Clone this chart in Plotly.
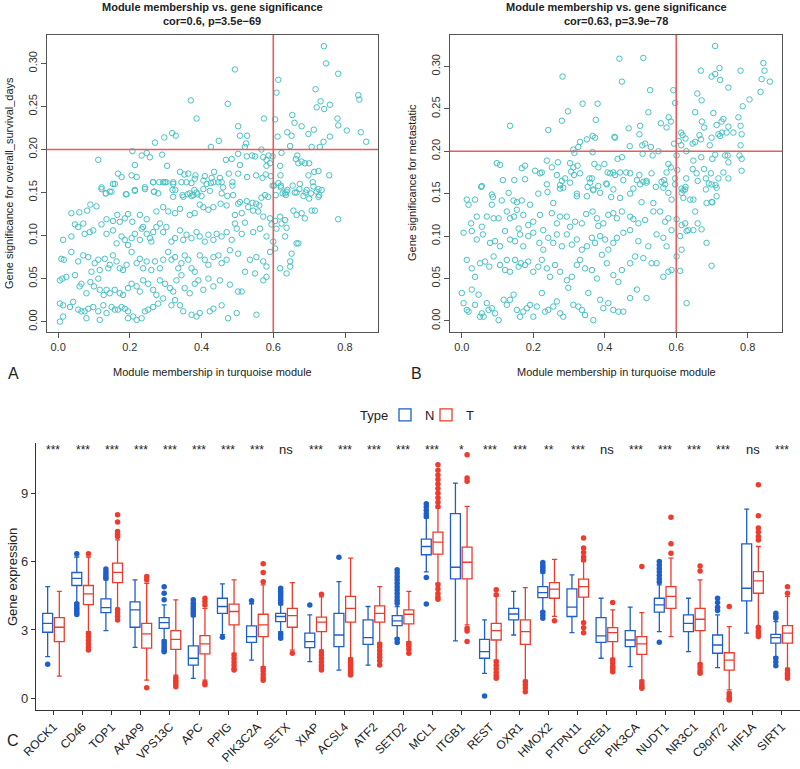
import plotly.graph_objects as go

#------------------------------------------------------------------------------
#   Data: panel A (overall_survival_days)
#------------------------------------------------------------------------------
a_mm = [0.112, 0.493, 0.370, 0.386, 0.473, 0.318, 0.328, 0.296, 0.270, 0.207, 0.214, 0.233, 0.247, 0.256, 0.290, 0.304,
        0.426, 0.448, 0.502, 0.507, 0.527, 0.524, 0.521, 0.502, 0.507, 0.484, 0.468, 0.526, 0.541, 0.549, 0.567, 0.572,
        0.581, 0.587, 0.581, 0.591, 0.574, 0.605, 0.614, 0.609, 0.612, 0.623, 0.598, 0.619, 0.639, 0.651, 0.653, 0.659,
        0.647, 0.667, 0.663, 0.670, 0.679, 0.679, 0.698, 0.713, 0.707, 0.730, 0.718, 0.721, 0.732, 0.742, 0.758, 0.741,
        0.747, 0.781, 0.779, 0.781, 0.758, 0.805, 0.837, 0.840, 0.844, 0.859, 0.740, 0.756, 0.726, 0.714, 0.688, 0.700,
        0.698, 0.726, 0.710, 0.690, 0.705, 0.167, 0.177, 0.153, 0.205, 0.219, 0.121, 0.133, 0.149, 0.189, 0.214, 0.242,
        0.265, 0.267, 0.279, 0.282, 0.298, 0.321, 0.340, 0.352, 0.363, 0.383, 0.381, 0.344, 0.358, 0.372, 0.319, 0.327,
        0.349, 0.367, 0.377, 0.389, 0.409, 0.405, 0.428, 0.435, 0.451, 0.447, 0.456, 0.426, 0.486, 0.486, 0.476, 0.502,
        0.527, 0.552, 0.570, 0.579, 0.593, 0.423, 0.405, 0.620, 0.598, 0.614, 0.621, 0.626, 0.635, 0.639, 0.654, 0.665,
        0.673,
        0.121, 0.133, 0.144, 0.158, 0.191, 0.214, 0.242, 0.265, 0.268, 0.293, 0.302, 0.321, 0.321, 0.347, 0.361, 0.372,
        0.380, 0.386, 0.400, 0.414, 0.433, 0.460, 0.456, 0.472, 0.488, 0.502, 0.507, 0.526, 0.542, 0.552, 0.561, 0.567,
        0.577, 0.586, 0.602, 0.607, 0.621, 0.633, 0.637, 0.660, 0.674, 0.684, 0.693, 0.700, 0.712, 0.721, 0.728, 0.735,
        0.726,
        0.037, 0.059, 0.081, 0.090, 0.107, 0.135, 0.153, 0.165, 0.172, 0.186, 0.195, 0.207, 0.228, 0.247, 0.274, 0.293,
        0.307, 0.326, 0.340, 0.367, 0.381, 0.395, 0.405, 0.419, 0.433, 0.453, 0.470, 0.493, 0.512, 0.530, 0.544, 0.558,
        0.572, 0.591, 0.605, 0.619, 0.633, 0.595, 0.609, 0.623, 0.637, 0.656, 0.665, 0.679, 0.688, 0.707, 0.716, 0.781,
        0.014, 0.037, 0.047, 0.056, 0.070, 0.074, 0.088, 0.098, 0.121, 0.135, 0.153, 0.163, 0.177, 0.186, 0.195, 0.205,
        0.214, 0.228, 0.233, 0.237, 0.247, 0.256, 0.260, 0.265, 0.274, 0.284, 0.293, 0.302, 0.316, 0.326, 0.340, 0.349,
        0.358, 0.372, 0.386, 0.395, 0.409, 0.419, 0.433, 0.442, 0.456, 0.470, 0.484, 0.498, 0.512, 0.544, 0.563, 0.581,
        0.600, 0.633, 0.665, 0.493, 0.521,
        0.009, 0.016, 0.037, 0.056, 0.070, 0.084, 0.093, 0.102, 0.112, 0.116, 0.130, 0.140, 0.144, 0.153, 0.163, 0.172,
        0.181, 0.191, 0.205, 0.219, 0.228, 0.237, 0.247, 0.260, 0.270, 0.284, 0.293, 0.307, 0.316, 0.326, 0.335, 0.344,
        0.353, 0.363, 0.372, 0.381, 0.395, 0.409, 0.419, 0.433, 0.447, 0.456, 0.470, 0.479, 0.502, 0.521, 0.535, 0.553,
        0.572, 0.581, 0.591, 0.605, 0.619, 0.647, 0.670, 0.651,
        0.005, 0.012, 0.023, 0.047, 0.060, 0.065, 0.079, 0.090, 0.100, 0.112, 0.116, 0.127, 0.135, 0.144, 0.158, 0.172,
        0.181, 0.195, 0.205, 0.219, 0.228, 0.237, 0.251, 0.265, 0.274, 0.284, 0.298, 0.312, 0.321, 0.330, 0.344, 0.353,
        0.367, 0.381, 0.391, 0.405, 0.419, 0.433, 0.451, 0.479, 0.502, 0.512, 0.549, 0.572, 0.581, 0.637, 0.647,
        0.005, 0.014, 0.033, 0.042, 0.056, 0.065, 0.074, 0.084, 0.098, 0.112, 0.126, 0.135, 0.149, 0.158, 0.167, 0.177,
        0.186, 0.195, 0.209, 0.219, 0.233, 0.242, 0.251, 0.265, 0.279, 0.293, 0.316, 0.326, 0.340, 0.349, 0.372, 0.386,
        0.395, 0.423, 0.433, 0.456, 0.474, 0.498, 0.553, 0.005, 0.014, 0.195, 0.079, 0.116]
a_gs = [0.188, 0.293, 0.257, 0.236, 0.253, 0.219, 0.216, 0.214, 0.208, 0.198, 0.182, 0.193, 0.196, 0.191, 0.194, 0.181,
        0.203, 0.210, 0.227, 0.216, 0.216, 0.207, 0.203, 0.195, 0.182, 0.189, 0.188, 0.192, 0.193, 0.192, 0.200, 0.191,
        0.188, 0.193, 0.181, 0.184, 0.236, 0.235, 0.281, 0.266, 0.215, 0.196, 0.192, 0.181, 0.220, 0.216, 0.240, 0.231,
        0.204, 0.193, 0.189, 0.184, 0.186, 0.227, 0.218, 0.223, 0.203, 0.203, 0.270, 0.249, 0.256, 0.247, 0.252, 0.320,
        0.300, 0.288, 0.236, 0.228, 0.215, 0.222, 0.263, 0.258, 0.220, 0.209, 0.209, 0.170, 0.175, 0.174, 0.184, 0.184,
        0.170, 0.154, 0.162, 0.150, 0.149, 0.172, 0.168, 0.160, 0.170, 0.168, 0.154, 0.149, 0.151, 0.148, 0.152, 0.154,
        0.162, 0.151, 0.149, 0.162, 0.162, 0.162, 0.174, 0.171, 0.172, 0.170, 0.166, 0.162, 0.162, 0.161, 0.153, 0.153,
        0.145, 0.149, 0.147, 0.148, 0.169, 0.164, 0.167, 0.174, 0.167, 0.162, 0.162, 0.161, 0.162, 0.158, 0.172, 0.172,
        0.168, 0.170, 0.167, 0.171, 0.169, 0.152, 0.154, 0.170, 0.158, 0.161, 0.156, 0.149, 0.147, 0.153, 0.158, 0.150,
        0.154,
        0.156, 0.149, 0.151, 0.160, 0.148, 0.153, 0.156, 0.162, 0.151, 0.162, 0.162, 0.160, 0.145, 0.147, 0.148, 0.146,
        0.153, 0.150, 0.146, 0.160, 0.162, 0.156, 0.149, 0.146, 0.147, 0.137, 0.139, 0.140, 0.138, 0.137, 0.135, 0.144,
        0.147, 0.145, 0.158, 0.147, 0.158, 0.149, 0.151, 0.150, 0.160, 0.146, 0.153, 0.143, 0.157, 0.151, 0.147, 0.153,
        0.145,
        0.126, 0.127, 0.129, 0.136, 0.134, 0.119, 0.117, 0.124, 0.116, 0.120, 0.125, 0.116, 0.124, 0.119, 0.128, 0.133,
        0.128, 0.126, 0.131, 0.124, 0.126, 0.136, 0.133, 0.130, 0.133, 0.137, 0.135, 0.124, 0.126, 0.133, 0.129, 0.128,
        0.122, 0.120, 0.117, 0.122, 0.118, 0.113, 0.108, 0.114, 0.109, 0.129, 0.124, 0.126, 0.120, 0.129, 0.129, 0.119,
        0.095, 0.099, 0.113, 0.110, 0.114, 0.102, 0.104, 0.106, 0.113, 0.102, 0.106, 0.091, 0.099, 0.095, 0.089, 0.097,
        0.102, 0.095, 0.108, 0.110, 0.102, 0.097, 0.093, 0.104, 0.110, 0.114, 0.104, 0.110, 0.093, 0.097, 0.106, 0.095,
        0.101, 0.097, 0.104, 0.099, 0.093, 0.101, 0.095, 0.102, 0.099, 0.104, 0.095, 0.108, 0.102, 0.104, 0.108, 0.099,
        0.093, 0.099, 0.091, 0.114, 0.115,
        0.073, 0.072, 0.081, 0.070, 0.077, 0.075, 0.058, 0.068, 0.072, 0.060, 0.073, 0.062, 0.066, 0.077, 0.070, 0.062,
        0.060, 0.066, 0.081, 0.068, 0.073, 0.062, 0.070, 0.060, 0.070, 0.062, 0.072, 0.081, 0.072, 0.075, 0.062, 0.068,
        0.077, 0.072, 0.062, 0.058, 0.077, 0.072, 0.066, 0.075, 0.077, 0.068, 0.072, 0.083, 0.079, 0.058, 0.072, 0.075,
        0.070, 0.064, 0.081, 0.085, 0.062, 0.070, 0.091, 0.079,
        0.048, 0.050, 0.052, 0.054, 0.041, 0.044, 0.033, 0.046, 0.041, 0.050, 0.037, 0.031, 0.037, 0.033, 0.037, 0.033,
        0.031, 0.039, 0.044, 0.041, 0.035, 0.048, 0.044, 0.037, 0.031, 0.048, 0.044, 0.039, 0.035, 0.048, 0.054, 0.039,
        0.033, 0.044, 0.048, 0.037, 0.050, 0.041, 0.048, 0.043, 0.035, 0.035, 0.056, 0.048, 0.052, 0.056, 0.064,
        0.021, 0.019, 0.017, 0.023, 0.014, 0.012, 0.012, 0.015, 0.017, 0.012, 0.019, 0.010, 0.017, 0.014, 0.014, 0.017,
        0.015, 0.012, 0.006, 0.002, 0.004, 0.012, 0.014, 0.017, 0.021, 0.027, 0.019, 0.025, 0.019, 0.012, 0.008, 0.006,
        0.010, 0.012, 0.015, 0.019, 0.004, 0.010, 0.008, 0.000, 0.006, 0.004, 0.004, 0.002]

#------------------------------------------------------------------------------
#   Data: panel B (metastatic)
#------------------------------------------------------------------------------
b_mm = [0.441, 0.508, 0.448, 0.282, 0.709, 0.721, 0.699, 0.709, 0.723, 0.669, 0.844, 0.847, 0.839, 0.862, 0.780, 0.805,
        0.746, 0.659, 0.527, 0.592, 0.597, 0.338, 0.380, 0.297, 0.280, 0.135, 0.242, 0.375, 0.522, 0.579, 0.585, 0.557,
        0.573, 0.499, 0.467, 0.497, 0.513, 0.505, 0.529, 0.534, 0.550, 0.506, 0.470, 0.448, 0.427, 0.429, 0.331, 0.350,
        0.366, 0.373, 0.366, 0.312, 0.315, 0.326, 0.614, 0.618, 0.626, 0.607, 0.614, 0.601, 0.594, 0.628, 0.646, 0.648,
        0.653, 0.665, 0.669, 0.672, 0.678, 0.653, 0.671, 0.694, 0.701, 0.709, 0.704, 0.713, 0.718, 0.723, 0.727, 0.732,
        0.728, 0.741, 0.746, 0.737, 0.746, 0.774, 0.780, 0.783, 0.786, 0.836, 0.760, 0.699, 0.780, 0.783, 0.777, 0.744,
        0.107, 0.098, 0.056, 0.087, 0.115, 0.147, 0.168, 0.177, 0.205, 0.224, 0.238, 0.240, 0.252, 0.266, 0.269, 0.275,
        0.280, 0.289, 0.303, 0.306, 0.312, 0.314, 0.324, 0.331, 0.322, 0.352, 0.357, 0.364, 0.368, 0.371, 0.382, 0.399,
        0.404, 0.408, 0.415, 0.424, 0.429, 0.436, 0.443, 0.452, 0.460, 0.471, 0.490, 0.497, 0.508, 0.517, 0.531, 0.543,
        0.559, 0.566, 0.573, 0.578, 0.585, 0.597, 0.603, 0.615, 0.620, 0.626, 0.628, 0.646, 0.657, 0.660, 0.670, 0.678,
        0.683, 0.691, 0.697, 0.710, 0.718, 0.732, 0.746, 0.783, 0.177, 0.219, 0.275,
        0.014, 0.019, 0.037, 0.054, 0.084, 0.084, 0.112, 0.131, 0.145, 0.154, 0.154, 0.168, 0.191, 0.214, 0.238, 0.256,
        0.284, 0.303, 0.322, 0.350, 0.368, 0.359, 0.382, 0.387, 0.406, 0.424, 0.418, 0.443, 0.471, 0.480, 0.499, 0.503,
        0.517, 0.536, 0.564, 0.569, 0.578, 0.587, 0.597, 0.615, 0.620, 0.625, 0.639, 0.648, 0.683, 0.699, 0.701, 0.713,
        0.713,
        0.026, 0.042, 0.056, 0.070, 0.089, 0.103, 0.126, 0.135, 0.146, 0.159, 0.172, 0.186, 0.200, 0.219, 0.228, 0.252,
        0.266, 0.275, 0.294, 0.303, 0.317, 0.336, 0.348, 0.366, 0.378, 0.382, 0.396, 0.410, 0.424, 0.434, 0.448, 0.471,
        0.480, 0.494, 0.513, 0.536, 0.555, 0.569, 0.578, 0.601, 0.615, 0.625, 0.634, 0.653, 0.660, 0.671, 0.685, 0.699,
        0.005, 0.028, 0.042, 0.059, 0.079, 0.093, 0.107, 0.121, 0.135, 0.149, 0.163, 0.172, 0.186, 0.200, 0.217, 0.228,
        0.242, 0.256, 0.266, 0.280, 0.294, 0.308, 0.322, 0.336, 0.350, 0.364, 0.373, 0.387, 0.401, 0.410, 0.424, 0.434,
        0.452, 0.471, 0.494, 0.522, 0.545, 0.564, 0.573, 0.587, 0.601, 0.611, 0.629, 0.648, 0.615, 0.685,
        0.014, 0.028, 0.037, 0.051, 0.065, 0.077, 0.089, 0.107, 0.121, 0.126, 0.135, 0.149, 0.159, 0.165, 0.177, 0.186,
        0.200, 0.214, 0.224, 0.238, 0.247, 0.261, 0.275, 0.294, 0.308, 0.322, 0.331, 0.345, 0.364, 0.378, 0.392, 0.406,
        0.424, 0.438, 0.448, 0.471, 0.485, 0.508, 0.531, 0.545, 0.564, 0.578, 0.587, 0.611, 0.699,
        0.000, 0.005, 0.014, 0.019, 0.028, 0.037, 0.047, 0.051, 0.056, 0.061, 0.070, 0.075, 0.084, 0.093, 0.103, 0.117,
        0.126, 0.135, 0.145, 0.154, 0.163, 0.172, 0.182, 0.191, 0.200, 0.210, 0.224, 0.233, 0.242, 0.256, 0.266, 0.275,
        0.284, 0.298, 0.312, 0.326, 0.336, 0.345, 0.354, 0.368, 0.387, 0.396, 0.410, 0.424, 0.438, 0.452, 0.471, 0.490,
        0.517, 0.629]
b_gs = [0.309, 0.310, 0.282, 0.288, 0.324, 0.298, 0.288, 0.291, 0.284, 0.295, 0.304, 0.295, 0.285, 0.282, 0.295, 0.261,
        0.275, 0.268, 0.272, 0.272, 0.257, 0.256, 0.256, 0.247, 0.236, 0.230, 0.225, 0.237, 0.246, 0.240, 0.235, 0.233,
        0.228, 0.230, 0.227, 0.220, 0.209, 0.207, 0.205, 0.195, 0.200, 0.197, 0.206, 0.193, 0.217, 0.216, 0.211, 0.214,
        0.218, 0.216, 0.199, 0.202, 0.198, 0.205, 0.222, 0.219, 0.215, 0.212, 0.207, 0.195, 0.209, 0.200, 0.209, 0.189,
        0.211, 0.219, 0.214, 0.235, 0.228, 0.246, 0.260, 0.207, 0.191, 0.196, 0.245, 0.231, 0.220, 0.218, 0.235, 0.238,
        0.222, 0.222, 0.229, 0.195, 0.187, 0.240, 0.230, 0.220, 0.253, 0.270, 0.222, 0.216, 0.207, 0.177, 0.195, 0.195,
        0.184, 0.186, 0.159, 0.146, 0.166, 0.166, 0.180, 0.167, 0.177, 0.175, 0.189, 0.152, 0.181, 0.172, 0.187, 0.160,
        0.165, 0.168, 0.186, 0.176, 0.181, 0.172, 0.183, 0.174, 0.150, 0.158, 0.168, 0.168, 0.154, 0.185, 0.181, 0.185,
        0.162, 0.175, 0.174, 0.175, 0.172, 0.191, 0.175, 0.166, 0.175, 0.174, 0.166, 0.172, 0.164, 0.165, 0.174, 0.158,
        0.164, 0.166, 0.175, 0.185, 0.181, 0.168, 0.178, 0.156, 0.154, 0.158, 0.168, 0.179, 0.174, 0.165, 0.193, 0.179,
        0.168, 0.162, 0.174, 0.160, 0.168, 0.175, 0.168, 0.191, 0.183, 0.174, 0.156,
        0.143, 0.137, 0.143, 0.158, 0.149, 0.137, 0.142, 0.151, 0.142, 0.140, 0.131, 0.142, 0.137, 0.150, 0.161, 0.139,
        0.157, 0.163, 0.147, 0.147, 0.155, 0.163, 0.159, 0.151, 0.161, 0.155, 0.146, 0.145, 0.150, 0.156, 0.161, 0.140,
        0.163, 0.139, 0.157, 0.161, 0.151, 0.143, 0.161, 0.151, 0.145, 0.155, 0.143, 0.143, 0.155, 0.161, 0.140, 0.157,
        0.147,
        0.115, 0.123, 0.111, 0.123, 0.121, 0.121, 0.129, 0.121, 0.123, 0.109, 0.125, 0.113, 0.117, 0.125, 0.107, 0.127,
        0.115, 0.123, 0.123, 0.111, 0.117, 0.115, 0.126, 0.129, 0.121, 0.112, 0.115, 0.125, 0.127, 0.121, 0.129, 0.123,
        0.120, 0.115, 0.119, 0.129, 0.129, 0.117, 0.121, 0.120, 0.113, 0.115, 0.107, 0.129, 0.115, 0.108, 0.139, 0.140,
        0.104, 0.106, 0.096, 0.102, 0.092, 0.094, 0.088, 0.106, 0.096, 0.094, 0.102, 0.088, 0.100, 0.104, 0.092, 0.084,
        0.098, 0.092, 0.102, 0.088, 0.102, 0.090, 0.096, 0.084, 0.088, 0.098, 0.092, 0.100, 0.096, 0.084, 0.092, 0.098,
        0.104, 0.107, 0.094, 0.088, 0.102, 0.098, 0.088, 0.107, 0.076, 0.100, 0.106, 0.107, 0.084, 0.092,
        0.072, 0.062, 0.052, 0.068, 0.070, 0.064, 0.076, 0.066, 0.060, 0.072, 0.058, 0.072, 0.064, 0.068, 0.066, 0.070,
        0.058, 0.064, 0.072, 0.062, 0.052, 0.066, 0.058, 0.048, 0.052, 0.066, 0.072, 0.062, 0.060, 0.050, 0.078, 0.068,
        0.054, 0.046, 0.060, 0.068, 0.076, 0.074, 0.068, 0.068, 0.052, 0.058, 0.060, 0.059, 0.065,
        0.033, 0.021, 0.013, 0.011, 0.037, 0.019, 0.031, 0.005, 0.009, 0.005, 0.021, 0.013, 0.015, 0.009, 0.001, 0.025,
        0.019, 0.025, 0.031, 0.013, 0.005, 0.011, 0.015, 0.019, 0.005, 0.017, 0.033, 0.011, 0.013, 0.017, 0.023, 0.009,
        0.005, 0.039, 0.019, 0.017, 0.013, 0.007, 0.033, 0.001, 0.025, 0.015, 0.021, 0.013, 0.011, 0.011, 0.027, 0.037,
        0.027, 0.021]

#------------------------------------------------------------------------------
#   Data: panel C (box plots)
#------------------------------------------------------------------------------
genes = ["ROCK1", "CD46", "TOP1", "AKAP9", "VPS13C", "APC", "PPIG", "PIK3C2A", "SETX", "XIAP", "ACSL4", "ATF2", "SETD2",
         "MCL1", "ITGB1", "REST", "OXR1", "HMOX2", "PTPN11", "CREB1", "PIK3CA", "NUDT1", "NR3C1", "C9orf72", "HIF1A",
         "SIRT1"]
signif = ["***", "***", "***", "***", "***", "***", "***", "***", "ns", "***", "***", "***", "***", "***", "*", "***",
          "***", "**", "***", "ns", "***", "***", "***", "***", "ns", "***"]

n_q1 = [2.90, 4.95, 3.76, 3.12, 3.07, 1.46, 3.73, 2.46, 3.37, 2.23, 2.27, 2.37, 3.19, 6.30, 5.24, 1.76, 3.44, 4.42, 3.59,
        2.46, 2.27, 3.78, 2.93, 1.98, 4.28, 2.42]
n_med = [3.29, 5.26, 3.98, 3.88, 3.32, 1.76, 4.03, 2.71, 3.59, 2.49, 2.78, 2.66, 3.40, 6.66, 5.75, 2.05, 3.70, 4.64, 4.00,
         2.74, 2.56, 4.10, 3.29, 2.34, 4.83, 2.66]
n_q3 = [3.73, 5.52, 4.36, 4.23, 3.54, 2.30, 4.39, 3.18, 3.73, 2.86, 3.73, 3.44, 3.63, 6.98, 8.10, 2.59, 3.95, 4.90, 4.80,
        3.54, 2.97, 4.39, 3.66, 2.78, 6.78, 2.81]
n_lo = [1.83, 4.20, 2.97, 2.24, 2.56, 0.88, 2.80, 1.68, 2.93, 1.61, 1.24, 1.46, 2.64, 5.55, 2.52, 1.10, 2.78, 3.81, 2.88,
        1.76, 1.39, 2.93, 2.05, 1.35, 2.86, 1.83]
n_hi = [4.90, 6.20, 5.20, 5.20, 4.10, 3.59, 5.02, 4.15, 4.10, 3.66, 5.12, 4.03, 4.03, 7.91, 9.44, 3.44, 4.69, 5.49, 5.42,
        4.39, 4.00, 4.98, 4.39, 3.66, 8.30, 3.37]
n_out = [[1.50], [6.34, 4.15, 4.05, 3.95, 3.85, 3.75, 3.68], [5.67, 5.55, 5.45, 5.35, 5.27], [],
         [4.90, 4.61, 4.32, 2.49, 2.40, 2.30, 2.20, 2.10, 2.05], [4.32, 4.17, 4.05, 3.95, 3.85, 3.75, 3.66], [2.68],
         [4.28], [4.83, 4.70, 4.60, 4.50, 4.40, 4.30, 4.17, 2.85, 2.75, 2.64], [4.10], [6.19], [],
         [5.64, 5.50, 5.35, 5.20, 5.05, 4.90, 4.75, 4.60, 4.45, 4.30, 4.17, 2.59, 2.45],
         [8.54, 8.40, 8.25, 8.10, 7.98, 5.30, 4.14], [], [0.10], [], [5.96, 5.85, 5.75, 5.65, 5.56, 3.78, 3.65, 3.51],
         [], [], [], [6.00, 5.85, 5.70, 5.55, 5.40, 5.25, 5.10, 2.46], [], [4.39, 4.20, 4.00, 3.85], [],
         [3.73, 3.60, 3.51, 1.76, 1.60, 1.43]]

t_q1 = [2.49, 4.11, 5.08, 2.20, 2.15, 1.95, 3.22, 2.71, 3.12, 2.93, 3.34, 3.34, 3.27, 6.33, 5.24, 2.56, 2.37, 4.39, 4.44,
        2.49, 1.93, 3.95, 2.97, 1.24, 4.61, 2.42]
t_med = [3.12, 4.58, 5.53, 2.83, 2.59, 2.39, 3.81, 3.22, 3.63, 3.34, 3.95, 3.73, 3.69, 6.85, 5.97, 2.97, 2.93, 4.79, 4.90,
         2.88, 2.39, 4.47, 3.47, 1.68, 5.15, 2.86]
t_q3 = [3.54, 4.95, 5.93, 3.29, 2.97, 2.75, 4.13, 3.69, 3.95, 3.56, 4.47, 4.06, 3.88, 7.29, 6.63, 3.29, 3.44, 5.08, 5.23,
        3.10, 2.71, 4.90, 3.95, 2.00, 5.56, 3.19]
t_lo = [0.98, 2.93, 3.95, 0.80, 1.02, 0.80, 1.98, 1.39, 2.12, 2.12, 1.76, 2.42, 2.49, 5.05, 3.22, 1.68, 0.80, 3.60, 3.37,
        1.76, 0.80, 2.71, 1.54, 0.37, 3.15, 1.32]
t_hi = [4.69, 6.20, 6.95, 5.05, 4.32, 3.95, 5.20, 4.98, 5.08, 4.45, 6.15, 4.90, 4.69, 8.35, 8.42, 4.47, 4.86, 6.10, 6.00,
        3.88, 3.76, 6.15, 5.20, 3.15, 6.66, 4.47]
t_out = [[], [6.34, 2.85, 2.70, 2.55, 2.40, 2.25, 2.12], [8.05, 7.73, 7.32, 7.20, 7.10, 3.90, 3.75, 3.60, 3.44],
         [5.34, 5.20, 0.47], [0.92, 0.80, 0.70, 0.60, 0.51], [4.39, 4.25, 4.10, 0.69, 0.60],
         [1.90, 1.75, 1.60, 1.45, 1.30, 1.24], [5.90, 5.52, 5.12, 1.32, 1.20, 1.05, 0.90, 0.80], [1.98],
         [4.57, 2.05, 1.90, 1.75, 1.60, 1.45, 1.35, 1.24], [1.71, 1.60, 1.50, 1.40, 1.30, 1.20, 1.10, 1.02],
         [2.39, 2.25, 2.10, 1.95, 1.80, 1.65, 1.46], [2.42, 2.30, 2.15, 1.98],
         [10.25, 10.0, 9.80, 9.60, 9.40, 9.20, 9.00, 8.80, 8.60, 8.42, 4.98, 4.80, 4.60, 4.45, 4.35],
         [10.69, 9.66, 9.52, 3.07, 2.95, 2.49], [4.76, 4.54, 1.61, 1.45, 1.30, 1.15, 1.00, 0.88], [0.73, 0.60, 0.45, 0.29],
         [3.40], [7.03, 6.60, 6.40, 6.20, 6.08, 3.32, 3.10, 2.88], [4.20, 1.68, 1.55, 1.40, 1.30, 1.17],
         [5.78, 0.73, 0.60, 0.50, 0.44], [7.94, 6.78, 6.37], [5.81, 5.59, 1.49, 1.35, 1.20, 1.10],
         [4.03, 0.22, 0.10, 0.00, -0.07], [9.37, 8.01, 7.47, 7.30, 7.10, 6.95, 3.12, 2.95, 2.85, 2.71],
         [4.90, 4.61, 1.24, 1.10, 1.00, 0.88]]

#------------------------------------------------------------------------------
#   Styles
#------------------------------------------------------------------------------
FONT = "Liberation Sans, Arial, Helvetica, sans-serif"
TURQ = "#45c2c2"
REFLINE = "rgb(240,90,90)"
BLUE = "#1f5fc8"
RED = "#ee3b2e"
W, H = 800, 769

xr_a, yr_a = [-0.031, 0.892], [-0.012, 0.333]
xr_b, yr_b = [-0.033, 0.896], [-0.013, 0.337]

fig = go.Figure()

# scatter panels, with the 0.6 / 0.2 cut-off lines drawn over the points
for ax, mm, gs, xr, yr in [("", a_mm, a_gs, xr_a, yr_a), ("2", b_mm, b_gs, xr_b, yr_b)]:
    fig.add_trace(go.Scatter(x=mm, y=gs, mode="markers", xaxis="x" + ax, yaxis="y" + ax, showlegend=False,
                             marker=dict(symbol="circle-open", size=5.5, color=TURQ, line=dict(width=1, color=TURQ))))
    fig.add_shape(type="line", xref="x" + ax, yref="y" + ax, x0=0.6, x1=0.6, y0=yr[0], y1=yr[1], layer="above",
                  line=dict(color=REFLINE, width=1.6))
    fig.add_shape(type="line", xref="x" + ax, yref="y" + ax, x0=xr[0], x1=xr[1], y0=0.2, y1=0.2, layer="above",
                  line=dict(color=REFLINE, width=1.6))

# box panel
pos = list(range(len(genes)))
for name, off, col, q1, med, q3, lo, hi, outl, leg in [
        ("N", -0.2, BLUE, n_q1, n_med, n_q3, n_lo, n_hi, n_out, "legend"),
        ("T", 0.2, RED, t_q1, t_med, t_q3, t_lo, t_hi, t_out, "legend2")]:
    xs = [p + off for p in pos]
    fig.add_trace(go.Box(x=xs, q1=q1, median=med, q3=q3, lowerfence=lo, upperfence=hi, name=name,
                         xaxis="x3", yaxis="y3", width=0.34, fillcolor="white", boxpoints=False,
                         line=dict(color=col, width=1.3), legendgroup=name, legend=leg))
    ox, oy = [], []
    for p, vals in zip(xs, outl):
        for v in vals:
            ox.append(p)
            oy.append(v)
    fig.add_trace(go.Scatter(x=ox, y=oy, mode="markers", xaxis="x3", yaxis="y3", showlegend=False,
                             marker=dict(size=5.5, color=col), legendgroup=name))

for p, s in zip(pos, signif):
    fig.add_annotation(x=p, y=10.9, xref="x3", yref="y3", text=s, showarrow=False,
                       font=dict(size=13 if s == "ns" else 12, color="#222"))

#------------------------------------------------------------------------------
#   Layout (positions given in page pixels)
#------------------------------------------------------------------------------
def px_x(v):
    return v / W

def px_y(v):
    return 1 - v / H

tick_font = dict(family=FONT, size=11, color="#333")
frame = dict(showline=True, mirror=True, linecolor="#555", linewidth=1, showgrid=False, zeroline=False,
             ticks="outside", ticklen=5, tickcolor="#555", tickfont=tick_font, automargin=False)
legend_style = dict(orientation="h", xanchor="left", y=px_y(415), yanchor="middle",
                    font=dict(family=FONT, size=13, color="#222"), bgcolor="rgba(0,0,0,0)")

fig.update_layout(
    template="none",
    width=W, height=H, margin=dict(l=0, r=0, t=0, b=0, pad=0),
    plot_bgcolor="white", paper_bgcolor="white", font=dict(family=FONT),
    xaxis=dict(domain=[px_x(47), px_x(378)], range=xr_a, anchor="y",
               tickvals=[0, 0.2, 0.4, 0.6, 0.8], ticktext=["0.0", "0.2", "0.4", "0.6", "0.8"], **frame),
    yaxis=dict(domain=[px_y(332), px_y(35)], range=yr_a, anchor="x", tickangle=-90,
               tickvals=[0, 0.05, 0.1, 0.15, 0.2, 0.25, 0.3],
               ticktext=["0.00", "0.05", "0.10", "0.15", "0.20", "0.25", "0.30"], **frame),
    xaxis2=dict(domain=[px_x(450), px_x(782)], range=xr_b, anchor="y2",
                tickvals=[0, 0.2, 0.4, 0.6, 0.8], ticktext=["0.0", "0.2", "0.4", "0.6", "0.8"], **frame),
    yaxis2=dict(domain=[px_y(332), px_y(35)], range=yr_b, anchor="x2", tickangle=-90,
                tickvals=[0, 0.05, 0.1, 0.15, 0.2, 0.25, 0.3],
                ticktext=["0.00", "0.05", "0.10", "0.15", "0.20", "0.25", "0.30"], **frame),
    xaxis3=dict(domain=[px_x(36), 1.0], range=[-0.6, 25.63], anchor="y3", tickvals=pos, ticktext=genes,
                tickangle=-45, showline=True, linecolor="#333", linewidth=1.2, showgrid=False, zeroline=False,
                ticks="outside", ticklen=4, tickcolor="#333", automargin=False,
                tickfont=dict(family=FONT, size=12, color="#222")),
    yaxis3=dict(domain=[px_y(710), px_y(443)], range=[-0.51, 11.2], anchor="x3", tickvals=[0, 3, 6, 9],
                showline=True, linecolor="#333", linewidth=1.2, showgrid=False, zeroline=False, automargin=False,
                ticks="outside", ticklen=4, tickcolor="#333", tickfont=dict(family=FONT, size=13, color="#333")),
    legend=dict(x=px_x(385), **legend_style),
    legend2=dict(x=px_x(426), **legend_style),
    showlegend=True,
)

# titles and axis labels
def label(text, x, y, size=11, angle=0, bold=False):
    fig.add_annotation(x=px_x(x), y=px_y(y), xref="paper", yref="paper", xanchor="center", yanchor="middle",
                       text=("<b>%s</b>" % text) if bold else text, showarrow=False, textangle=angle,
                       font=dict(family=FONT, size=size, color="#222"))

label("Module membership vs. gene significance", 212, 7, bold=True)
label("cor=0.6, p=3.5e\u221269", 212, 21, bold=True)
label("Module membership vs. gene significance", 616, 7, bold=True)
label("cor=0.63, p=3.9e\u221278", 616, 21, bold=True)
label("Gene significance for overall_survival_days", 9, 183, angle=-90)
label("Gene significance for metastatic", 412, 183, angle=-90)
label("Module membership in turquoise module", 212, 372)
label("Module membership in turquoise module", 616, 372)
label("A", 13, 373, size=16)
label("B", 416, 373, size=16)
label("C", 13, 740, size=16)
label("Gene expression", 12, 577, size=13, angle=-90)
label("Type", 374, 415, size=13)

# the page body keeps its default 8px margin unless it is cleared
fig.write_html("out.html", config={"displayModeBar": False},
               post_script="document.body.style.margin='0';")
